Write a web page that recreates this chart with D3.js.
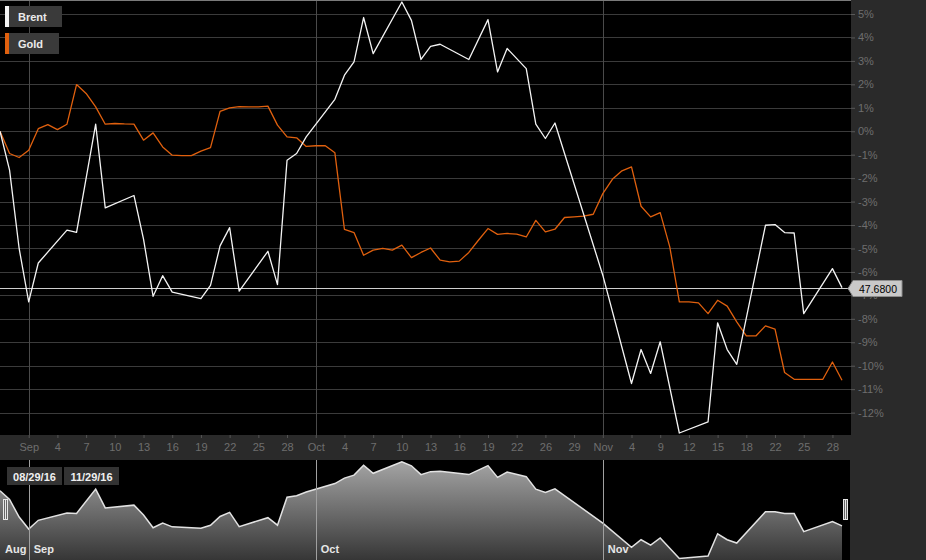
<!DOCTYPE html>
<html>
<head>
<meta charset="utf-8">
<script src="https://cdn.jsdelivr.net/npm/d3@7"></script>
<style>
  html, body { margin: 0; padding: 0; background: #2a2a2a; }
  svg { display: block; font-family: "Liberation Sans", Arial, sans-serif; }
</style>
</head>
<body>
<svg id="chart" width="926" height="560"></svg>
<script>
// ---------- DATA ----------
// x positions are trading-day indices (0 = 08/29/16, 88 = 11/29/16)
const brentIdx = [0,1,2,3,4,7,8,10,11,14,15,16,17,18,21,22,23,24,25,28,29,30,31,32,35,36,37,38,39,42,43,44,45,46,49,51,52,53,55,56,57,58,63,66,67,68,69,71,74,75,76,77,80,81,82,83,84,87,88];
const brentPct = [0,-1.66,-5.0,-7.28,-5.62,-4.22,-4.31,0.3,-3.27,-2.74,-4.6,-7.04,-6.16,-6.86,-7.14,-6.57,-4.89,-4.11,-6.82,-5.12,-6.54,-1.24,-0.95,-0.24,1.36,2.39,2.96,4.85,3.31,5.51,4.73,3.06,3.62,3.71,3.06,4.76,2.53,3.53,2.67,0.3,-0.31,0.35,-6.14,-10.76,-9.31,-10.33,-8.98,-12.87,-12.4,-8.17,-9.31,-9.94,-4.01,-3.98,-4.32,-4.34,-7.78,-5.86,-6.67];
// gold: one value per index 0..88
const goldPct = [0,-0.95,-1.12,-0.81,0.11,0.28,0.07,0.3,1.99,1.61,1.04,0.3,0.33,0.31,0.3,-0.38,-0.07,-0.67,-1.02,-1.04,
  -1.04,-0.85,-0.7,0.85,1.0,1.05,1.04,1.04,1.07,0.26,-0.24,-0.28,-0.65,-0.62,-0.62,-0.92,-4.19,-4.32,-5.29,-5.07,
  -5.0,-5.07,-4.86,-5.39,-5.17,-4.98,-5.5,-5.57,-5.54,-5.17,-4.65,-4.15,-4.4,-4.36,-4.39,-4.51,-3.8,-4.29,-4.18,-3.68,
  -3.65,-3.62,-3.54,-2.66,-2.05,-1.69,-1.52,-3.2,-3.65,-3.47,-4.93,-7.28,-7.28,-7.32,-7.78,-7.21,-7.46,-8.13,-8.73,-8.73,
  -8.3,-8.44,-10.29,-10.58,-10.58,-10.58,-10.58,-9.84,-10.62];
const seriesNames = ["Brent", "Gold"];
const lastBrentPrice = "47.6800";
const yTicks = [5,4,3,2,1,0,-1,-2,-3,-4,-5,-6,-7,-8,-9,-10,-11,-12];
const xTickIdx = [3,6,9,12,15,18,21,24,27,30,33,36,39,42,45,48,51,54,57,60,63,66,69,72,75,78,81,84,87];
const xTickLabels = ["Sep","4","7","10","13","16","19","22","25","28","Oct","4","7","10","13","16","19","22","26","29","Nov","4","9","12","15","18","22","25","28"];
const monthIdx = [3,33,63];
const navMonthIdx = [0,3,33,63];
const navMonthLabels = ["Aug","Sep","Oct","Nov"];
const rangeLabels = ["08/29/16","11/29/16"];

// ---------- LAYOUT ----------
const W = 926, H = 560;
const plotR = 851, plotB = 435;
const navT = 460, navB = 560, navR = 850;
const colBrent = "#f4f4f4", colGold = "#e0600e";

const svg = d3.select("#chart");
const x = d3.scaleLinear().domain([0, 88]).range([0, 842]);
const y = d3.scaleLinear().domain([-12, 5]).range([412.6, 14]);
const navY = d3.scaleLinear().domain(d3.extent(brentPct)).range([558.5, 461.7]);

const brent = brentIdx.map((d, i) => [d, brentPct[i]]);
const gold = goldPct.map((v, i) => [i, v]);

// backgrounds
svg.append("rect").attr("width", W).attr("height", H).attr("fill", "#2a2a2a");
svg.append("rect").attr("x", 0).attr("y", 0).attr("width", plotR).attr("height", plotB).attr("fill", "#000");
svg.append("rect").attr("x", 0).attr("y", navT).attr("width", navR).attr("height", navB - navT).attr("fill", "#000");

// horizontal grid
svg.append("g").selectAll("line").data(yTicks).join("line")
  .attr("x1", 0).attr("x2", plotR)
  .attr("y1", d => Math.round(y(d)) + 0.5).attr("y2", d => Math.round(y(d)) + 0.5)
  .attr("stroke", "#3b3b3b").attr("stroke-width", 1);

// vertical month lines
svg.append("g").selectAll("line").data(monthIdx).join("line")
  .attr("x1", d => Math.round(x(d)) + 0.5).attr("x2", d => Math.round(x(d)) + 0.5)
  .attr("y1", 0).attr("y2", plotB)
  .attr("stroke", "#4a4a4a").attr("stroke-width", 1);

// top border
svg.append("line").attr("x1", 0).attr("x2", plotR).attr("y1", 0.5).attr("y2", 0.5)
  .attr("stroke", "#7a7a7a");

// right axis
const yAxis = d3.axisRight(y).tickValues(yTicks).tickSize(4).tickPadding(3).tickFormat(d => d + "%");
const gy = svg.append("g").attr("transform", `translate(${plotR},0)`).call(yAxis);
gy.select(".domain").remove();
gy.selectAll(".tick line").attr("stroke", "#5a5a5a");
gy.selectAll(".tick text").attr("fill", "#6e6e6e").attr("font-size", "11px")
  .attr("font-family", "Liberation Sans, Arial, sans-serif");

// bottom axis
const xAxis = d3.axisBottom(x).tickValues(xTickIdx).tickSize(3).tickPadding(5)
  .tickFormat((d, i) => xTickLabels[i]);
const gx = svg.append("g").attr("transform", `translate(0,${plotB})`).call(xAxis);
gx.select(".domain").remove();
gx.selectAll(".tick line").attr("stroke", "#555");
gx.selectAll(".tick text").attr("fill", "#6e6e6e").attr("font-size", "11px")
  .attr("font-family", "Liberation Sans, Arial, sans-serif");

// last price line
const lastY = Math.round(y(brentPct[brentPct.length - 1])) + 0.5;
svg.append("line").attr("x1", 0).attr("x2", plotR).attr("y1", lastY).attr("y2", lastY)
  .attr("stroke", "#cfcfcf").attr("stroke-width", 1);

// series lines
const line = d3.line().x(d => x(d[0])).y(d => y(d[1]));
svg.append("path").datum(gold).attr("d", line).attr("fill", "none")
  .attr("stroke", colGold).attr("stroke-width", 1.3).attr("stroke-linejoin", "round");
svg.append("path").datum(brent).attr("d", line).attr("fill", "none")
  .attr("stroke", colBrent).attr("stroke-width", 1.3).attr("stroke-linejoin", "round");

// price label
const lg = svg.append("g");
lg.append("path")
  .attr("d", `M${plotR - 3},${lastY} L${plotR + 2},${lastY - 8} L${plotR + 51},${lastY - 8} L${plotR + 51},${lastY + 8} L${plotR + 2},${lastY + 8} Z`)
  .attr("fill", "#c9c9c9").attr("stroke", "#8c8c8c").attr("stroke-width", 1);
lg.append("text").attr("x", plotR + 27).attr("y", lastY + 4).attr("text-anchor", "middle")
  .attr("font-size", "10.5px").attr("fill", "#000").text(lastBrentPrice);

// legend
const legCols = [colBrent, colGold];
const legW = [57, 54];
const leg = svg.append("g").selectAll("g").data(seriesNames).join("g")
  .attr("transform", (d, i) => `translate(5,${6 + i * 27})`);
leg.append("rect").attr("width", (d, i) => legW[i]).attr("height", 21).attr("fill", "#3a3a3a");
leg.append("rect").attr("width", 4).attr("height", 21).attr("fill", (d, i) => legCols[i]);
leg.append("text").attr("x", 13).attr("y", 15).attr("font-size", "11px").attr("font-weight", "bold")
  .attr("fill", "#eaeaea").text(d => d);

// ---------- NAVIGATOR ----------
const defs = svg.append("defs");
const grad = defs.append("linearGradient").attr("id", "navGrad")
  .attr("gradientUnits", "userSpaceOnUse").attr("x1", 0).attr("x2", 0).attr("y1", navT).attr("y2", navB);
grad.append("stop").attr("offset", "0%").attr("stop-color", "#a6a6a6");
grad.append("stop").attr("offset", "100%").attr("stop-color", "#363636");

const area = d3.area().x(d => x(d[0])).y0(navB).y1(d => navY(d[1]));
svg.append("path").datum(brent).attr("d", area).attr("fill", "url(#navGrad)");
svg.append("path").datum(brent).attr("d", d3.line().x(d => x(d[0])).y(d => navY(d[1])))
  .attr("fill", "none").attr("stroke", "#e2e2e2").attr("stroke-width", 1.5);

// nav month lines
svg.append("g").selectAll("line").data(monthIdx).join("line")
  .attr("x1", d => Math.round(x(d)) + 0.5).attr("x2", d => Math.round(x(d)) + 0.5)
  .attr("y1", navT).attr("y2", navB)
  .attr("stroke", "#a0a0a0").attr("stroke-width", 1);

svg.append("g").selectAll("text").data(navMonthIdx).join("text")
  .attr("x", d => x(d) + 5).attr("y", 553)
  .attr("font-size", "11px").attr("font-weight", "bold").attr("fill", "#e6e6e6")
  .text((d, i) => navMonthLabels[i]);

// range date boxes
const rb = svg.append("g").selectAll("g").data(rangeLabels).join("g")
  .attr("transform", (d, i) => `translate(${7 + i * 57},467)`);
rb.append("rect").attr("width", 55).attr("height", 18).attr("fill", "#333");
rb.append("text").attr("x", 27.5).attr("y", 13.5).attr("text-anchor", "middle")
  .attr("font-size", "11px").attr("font-weight", "bold").attr("fill", "#f0f0f0").text(d => d);

// handles
[x(0) + 3, x(88) + 1].forEach(hx => {
  const h = svg.append("g").attr("transform", `translate(${hx},499)`);
  h.append("rect").attr("width", 5).attr("height", 21).attr("fill", "#e8e8e8");
  [1.5, 3.5].forEach(o => h.append("line").attr("x1", o).attr("x2", o).attr("y1", 1).attr("y2", 20)
    .attr("stroke", "#444").attr("stroke-width", 0.8));
});
</script>
</body>
</html>
